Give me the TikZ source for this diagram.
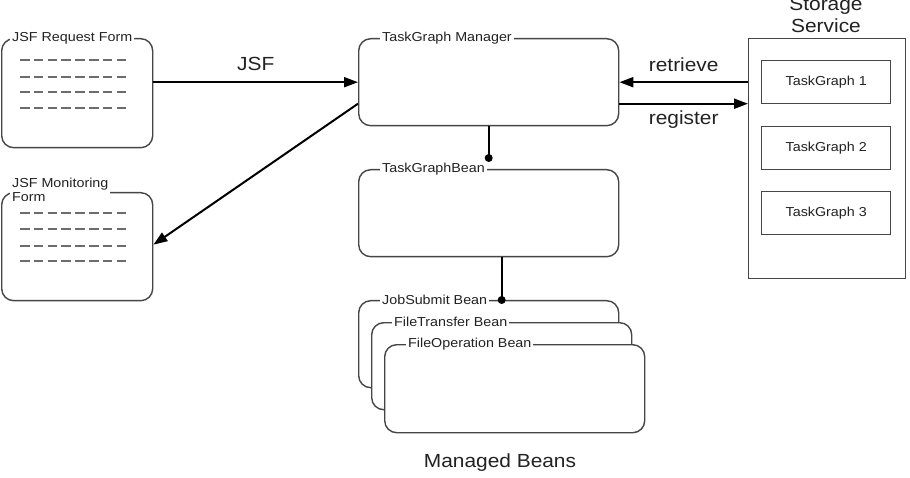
\documentclass[tikz,border=0pt]{standalone}
\usepackage{fontspec}
\setmainfont{Liberation Sans}[FakeStretch=1.1]
\usetikzlibrary{arrows.meta}
\definecolor{edge}{HTML}{464646}
\definecolor{txt}{HTML}{222222}
\begin{document}
\begin{tikzpicture}[x=1pt,y=-1pt,
  rbox/.style={draw=edge, line width=1.4pt, rounded corners=12pt, fill=white, anchor=north west, inner sep=0pt},
  sbox/.style={draw=edge, line width=1.4pt, fill=white, anchor=north west, inner sep=0pt, text=txt, font=\fontsize{13}{15}\selectfont},
  tag/.style={fill=white, inner xsep=2pt, inner ysep=0.5pt, anchor=west, text=txt, font=\fontsize{13}{14}\selectfont},
  big/.style={text=txt, inner sep=0pt, font=\fontsize{19}{22}\selectfont},
  conn/.style={line width=2pt, draw=black},
  arr/.style={conn, -{Triangle[length=14pt,width=10pt]}},
  formdash/.style={draw=gray!85!black, line width=1.7pt, dash pattern=on 9.5pt off 4.3pt}
]
\path[use as bounding box, fill=white] (0,0) rectangle (910,478);

% JSF forms
\node[rbox, minimum width=151pt, minimum height=109pt] (req) at (1,38) {};
\node[tag] (reqt) at ([xshift=9pt]req.north west) {JSF Request Form};
\foreach \yy in {60,77,92,108} \draw[formdash] (20,\yy) -- (126,\yy);

\node[rbox, minimum width=151pt, minimum height=108pt] (mon) at (1,192) {};
\node[tag, align=left, anchor=base west, font=\fontsize{13}{14}\selectfont] (mont) at (10,202) {JSF Monitoring\\Form};
\foreach \yy in {213,229,246,261} \draw[formdash] (20,\yy) -- (126,\yy);

% Manager and beans
\node[rbox, minimum width=260pt, minimum height=87pt] (mgr) at (358,38) {};
\node[tag] (mgrt) at ([xshift=22pt]mgr.north west) {TaskGraph Manager};

\node[rbox, minimum width=260pt, minimum height=87pt] (tgb) at (358,169) {};
\node[tag] (tgbt) at ([xshift=22pt]tgb.north west) {TaskGraphBean};

\node[rbox, minimum width=260pt, minimum height=87pt] (job) at (358,300) {};
\node[tag] (jobt) at ([xshift=22pt]job.north west) {JobSubmit Bean};
\node[rbox, minimum width=260pt, minimum height=87pt] (ft) at (371,322) {};
\node[tag] (ftt) at ([xshift=21pt]ft.north west) {FileTransfer Bean};
\node[rbox, minimum width=260pt, minimum height=88pt] (fo) at (384,344) {};
\node[tag] (fot) at ([xshift=22pt]fo.north west) {FileOperation Bean};

\node[big] (mb) at (500,463) {Managed Beans};

% Storage service
\node[sbox, minimum width=157pt, minimum height=240pt] (stor) at (748,38) {};
\node[big, align=center, anchor=north] (stt) at (826,-3) {Storage\\Service};
\node[sbox, minimum width=129pt, minimum height=43pt] (tg1) at (761,60) {TaskGraph 1};
\node[sbox, minimum width=129pt, minimum height=43pt] (tg2) at (761,126) {TaskGraph 2};
\node[sbox, minimum width=129pt, minimum height=43pt] (tg3) at (761,191) {TaskGraph 3};

% connectors
\draw[arr] (req.east |- mgr.west) -- (mgr.west)
  node[big, midway, anchor=base, yshift=12pt] {JSF};
\draw[arr] (stor.west |- mgr.east) -- (mgr.east)
  node[big, midway, anchor=base, yshift=11pt] {retrieve};
\coordinate (r0) at ([yshift=-21.5pt]mgr.east);
\draw[arr] (r0) -- (stor.west |- r0)
  node[big, midway, anchor=base, yshift=-21pt] {register};
\coordinate (m0) at ([yshift=-21.5pt]mgr.west);
\draw[arr] (m0) -- ([yshift=2pt]mon.east);

\coordinate (d1) at ([yshift=11pt]tgb.north);
\draw[conn] (mgr.south) -- (d1);
\fill (d1) circle (4pt);
\coordinate (t2) at ([xshift=13pt]tgb.south);
\coordinate (d2) at (t2 |- job.north);
\draw[conn] (t2) -- (d2);
\fill (d2) circle (4pt);
\end{tikzpicture}
\end{document}
